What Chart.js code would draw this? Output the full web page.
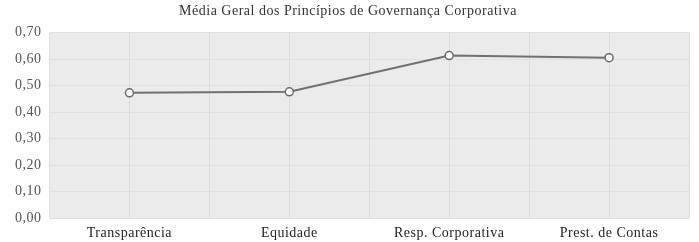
<!DOCTYPE html>
<html>
<head>
<meta charset="utf-8">
<script src="https://cdn.jsdelivr.net/npm/chart.js@4"></script>
<style>
  body { margin: 0; background: #fff; }
  #wrap { width: 699px; height: 242px; }
</style>
</head>
<body>
<div id="wrap"><canvas id="lineChart" width="699" height="242"></canvas></div>
<script>
const categories = ["Transparência", "Equidade", "Resp. Corporativa", "Prest. de Contas"];
const mediaValues = [0.473, 0.477, 0.614, 0.606];
const chartTitle = "Média Geral dos Princípios de Governança Corporativa";

// grey plot background like the scanned figure
const plotBg = {
    id: "plotBg",
    beforeUpdate(chart) {
        chart.ctx.letterSpacing = "0.5px"; // the scan is a bit wider than normal type
    },
    beforeDraw(chart) {
        const a = chart.chartArea;
        const ctx = chart.ctx;
        ctx.letterSpacing = "0.5px";
        ctx.save();
        ctx.fillStyle = "#ebebeb";
        ctx.fillRect(a.left, a.top, a.right - a.left, a.bottom - a.top);
        ctx.restore();
    }
};

const serif = "'Liberation Serif', 'DejaVu Serif', serif";

new Chart("lineChart", {
    type: "line",
    data: {
        labels: categories,
        datasets: [{
            data: mediaValues,
            borderColor: "#707070",
            borderWidth: 2,
            pointRadius: 4,
            pointBackgroundColor: "#ffffff",
            pointBorderColor: "#6a6a6a",
            pointBorderWidth: 1.5,
            tension: 0
        }]
    },
    options: {
        responsive: false,
        animation: false,
        layout: { padding: { left: 7, right: 10, top: 0, bottom: 0 } },
        plugins: {
            legend: { display: false },
            tooltip: { enabled: false },
            title: {
                display: true,
                text: chartTitle,
                color: "#333",
                font: { family: serif, size: 14, weight: "normal" },
                padding: { top: 3, bottom: 13 }
            }
        },
        scales: {
            x: {
                offset: true,
                grid: { offset: false, color: "#dddddd", drawTicks: false },
                border: { display: false },
                ticks: { color: "#222", font: { family: serif, size: 14 }, padding: 7 },
                afterFit(scale) { scale.height = 24; }
            },
            x2: {
                type: "category",
                labels: categories,
                offset: true,
                display: true,
                grid: { offset: true, color: "#dddddd", drawTicks: false },
                border: { display: false },
                ticks: { display: false },
                afterFit(scale) { scale.height = 0; } // only used for the boundary gridlines
            },
            y: {
                min: 0,
                max: 0.7,
                grid: { color: "#e0e0e0", drawTicks: false },
                border: { display: false },
                ticks: {
                    stepSize: 0.1,
                    color: "#555",
                    padding: 8,
                    font: { family: serif, size: 14 },
                    callback: v => v.toFixed(2).replace(".", ",")
                }
            }
        }
    },
    plugins: [plotBg]
});
</script>
</body>
</html>
